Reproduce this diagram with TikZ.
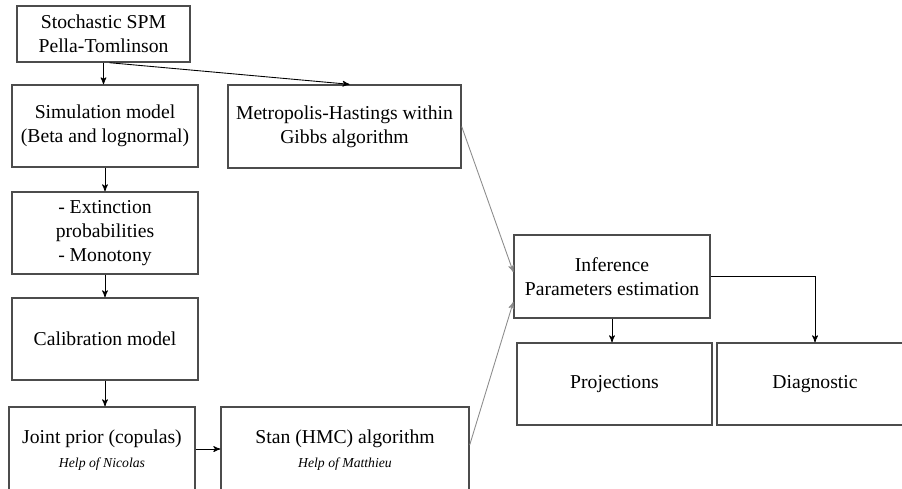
\documentclass[tikz,border=0pt]{standalone}
\usepackage{fontspec}
\setmainfont{Liberation Serif}
\usetikzlibrary{arrows}

\begin{document}
\begin{tikzpicture}[->, >=stealth', x=0.02cm, y=-0.02cm, line width=0.5pt]

%====Stili dei blocchi=======================================================

	\tikzstyle{box}=[draw=black!70, line width=0.8pt, fill=white, align=center, font=\fontsize{11.2}{13.5}\selectfont, inner sep=2pt]
	\tikzstyle{small}=[minimum width=3.72cm, minimum height=1.64cm]
	\tikzstyle{faint}=[black!45]

	\useasboundingbox (0,0) rectangle (902,488);
	\clip (0,0) rectangle (902,488);

%====Blocchi e posizione=====================================================
	\node[box, minimum width=3.46cm, minimum height=1.12cm]	(spm)	at (103.5,34)	{Stochastic SPM\\Pella-Tomlinson};
	\node[box, small]	(sim)	at (105,126)	{Simulation model\\(Beta and lognormal)};
	\node[box, minimum width=4.66cm, minimum height=1.66cm]	(mh)	at (344.5,126.5)	{Metropolis-Hastings within\\Gibbs algorithm};
	\node[box, small]	(ext)	at (105,233)	{- Extinction\\probabilities\\- Monotony};
	\node[box, small]	(cal)	at (105,339)	{Calibration model};
	\node[box, small, minimum height=1.72cm]	(prior)	at (102,450)	{Joint prior (copulas)\\{\fontsize{7.8}{9}\selectfont\itshape Help of Nicolas}};
	\node[box, minimum width=4.96cm, minimum height=1.72cm]	(stan)	at (345,450)	{Stan (HMC) algorithm\\{\fontsize{7.8}{9}\selectfont\itshape Help of Matthieu}};
	\node[box, minimum width=3.92cm, minimum height=1.66cm]	(inf)	at (612,276.5)	{Inference\\Parameters estimation};
	\node[box, minimum width=3.9cm, minimum height=1.64cm]	(proj)	at (614.5,384)	{Projections};
	\node[box, minimum width=3.92cm, minimum height=1.64cm]	(diag)	at (815,384)	{Diagnostic};

%====Collegamenti============================================================
	%from	stile	to
	\path	(spm.south)	edge	(spm.south |- sim.north)
		([xshift=0.12cm]spm.south)	edge	([xshift=0.1cm]mh.north)
		(sim.south)	edge	(ext.north)
		(ext.south)	edge	(cal.north)
		(cal.south)	edge	(cal.south |- prior.north)
		(prior.east |- 0,449)	edge	(stan.west |- 0,449)
		(mh.east)	edge[faint]	([yshift=0.09cm]inf.west)
		([yshift=0.1cm]stan.east)	edge[faint]	([yshift=-0.51cm]inf.west)
		(inf.south)	edge	(inf.south |- proj.north);
	\draw	(inf.east)	-|	(diag.north);
\end{tikzpicture}
\end{document}
